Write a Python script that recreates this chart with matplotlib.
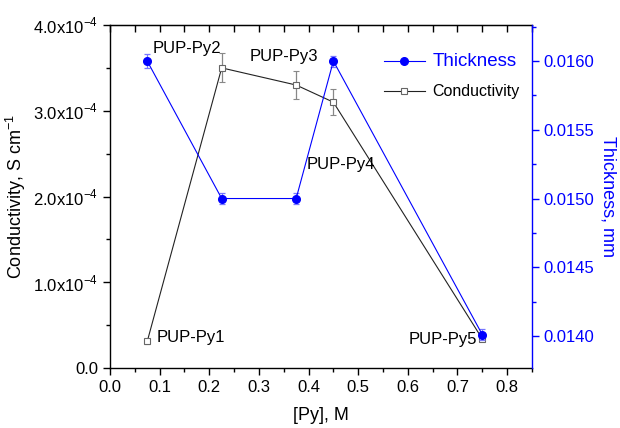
import matplotlib
matplotlib.use("Agg")
import matplotlib.pyplot as plt
from matplotlib.lines import Line2D
from matplotlib.ticker import MultipleLocator, FuncFormatter, NullFormatter

plt.rcParams['font.family'] = ['Liberation Sans', 'DejaVu Sans']
plt.rcParams['mathtext.fontset'] = 'custom'
plt.rcParams['mathtext.rm'] = 'Liberation Sans'

# datos
py_conc = [0.075, 0.225, 0.375, 0.45, 0.75]
muestras = ["PUP-Py1", "PUP-Py2", "PUP-Py3", "PUP-Py4", "PUP-Py5"]
conductividad = [3.1e-5, 3.5e-4, 3.3e-4, 3.1e-4, 3.4e-5]
err_cond = [0.3e-5, 1.7e-5, 1.6e-5, 1.5e-5, 0.3e-5]
espesor = [0.0160, 0.0150, 0.0150, 0.0160, 0.01401]
err_esp = [0.00005, 0.00004, 0.00004, 0.00004, 0.00004]

AZUL = '#0000ff'

fig = plt.figure(figsize=(6.2, 4.28), dpi=100)
ax = fig.add_axes([0.1774, 0.140, 0.6806, 0.8016])
ax2 = ax.twinx()

# conductividad (eje izquierdo)
ax.errorbar(py_conc, conductividad, yerr=err_cond, color='#222222', lw=0.8,
            marker='s', ms=4.5, mfc='white', mec='#666666', mew=0.8,
            ecolor='#888888', elinewidth=0.9, capsize=2.5, capthick=0.9,
            zorder=3)

# espesor (eje derecho)
ax2.errorbar(py_conc, espesor, yerr=err_esp, color=AZUL, lw=0.8,
             marker='o', ms=5.5, mfc=AZUL, mec=AZUL,
             ecolor='#7777ff', elinewidth=0.9, capsize=2.5, capthick=0.9,
             zorder=3)

# etiquetas de muestras
pos_texto = [(0.093, 3.6e-5, 'left'),
             (0.085, 3.73e-4, 'left'),
             (0.282, 3.63e-4, 'left'),
             (0.397, 2.37e-4, 'left'),
             (0.739, 3.3e-5, 'right')]
for nombre, (tx, ty, ha) in zip(muestras, pos_texto):
    ax.text(tx, ty, nombre, fontsize=12, ha=ha, va='center', zorder=4)

ax.set_xlim(0, 0.85)
ax.set_ylim(0, 4.0e-4)
ax2.set_ylim(0.013767, 0.016262)

ax.xaxis.set_major_locator(MultipleLocator(0.1))
ax.xaxis.set_minor_locator(MultipleLocator(0.05))
ax.yaxis.set_major_locator(MultipleLocator(1e-4))
ax.yaxis.set_minor_locator(MultipleLocator(0.5e-4))
ax2.yaxis.set_major_locator(MultipleLocator(0.0005))
ax2.yaxis.set_minor_locator(MultipleLocator(0.00025))

def fmt_cond(v, pos):
    if abs(v) < 1e-12:
        return '0.0'
    return r'%.1fx10$^{-4}$' % (v / 1e-4)

ax.yaxis.set_major_formatter(FuncFormatter(fmt_cond))
ax.xaxis.set_major_formatter(FuncFormatter(lambda v, p: '%.1f' % v))
ax2.yaxis.set_major_formatter(FuncFormatter(lambda v, p: '%.4f' % v))

ax.tick_params(axis='both', which='major', labelsize=12, direction='out', length=5, width=1)
ax.tick_params(axis='both', which='minor', direction='out', length=3, width=1)
ax2.tick_params(axis='y', which='major', labelsize=12, colors=AZUL, direction='out', length=5, width=1)
ax2.tick_params(axis='y', which='minor', colors=AZUL, direction='out', length=3, width=1)

# eje superior con marcas hacia dentro
arriba = ax.secondary_xaxis('top')
arriba.xaxis.set_major_locator(MultipleLocator(0.1))
arriba.xaxis.set_minor_locator(MultipleLocator(0.05))
arriba.xaxis.set_major_formatter(NullFormatter())
arriba.tick_params(which='both', direction='in', length=5, width=1)

for lado in ['left', 'bottom', 'top']:
    ax.spines[lado].set_linewidth(1.0)
ax.spines['right'].set_visible(False)
ax2.spines['left'].set_visible(False)
ax2.spines['top'].set_visible(False)
ax2.spines['bottom'].set_visible(False)
ax2.spines['right'].set_color(AZUL)
ax2.spines['right'].set_linewidth(1.0)

ax.set_xlabel('[Py], M', fontsize=13, labelpad=9)
ax.set_ylabel('Conductivity, S cm$^{-1}$', fontsize=13)
ax2.set_ylabel('Thickness, mm', fontsize=13, color=AZUL, rotation=270, labelpad=16)

# leyenda
h_esp = Line2D([], [], color=AZUL, lw=0.8, marker='o', ms=5.5, mfc=AZUL, mec=AZUL)
h_cond = Line2D([], [], color='#222222', lw=0.8, marker='s', ms=4.5, mfc='white', mec='#666666', mew=0.8)
leg = ax2.legend([h_esp, h_cond], ['Thickness', 'Conductivity'], loc='upper right',
                 bbox_to_anchor=(1.0, 0.955), frameon=False, handlelength=3.0,
                 labelspacing=1.0, handletextpad=0.5)
txt = leg.get_texts()
txt[0].set_color(AZUL)
txt[0].set_fontsize(13.5)
txt[1].set_fontsize(11.5)

fig.savefig("out.png", dpi=100)
